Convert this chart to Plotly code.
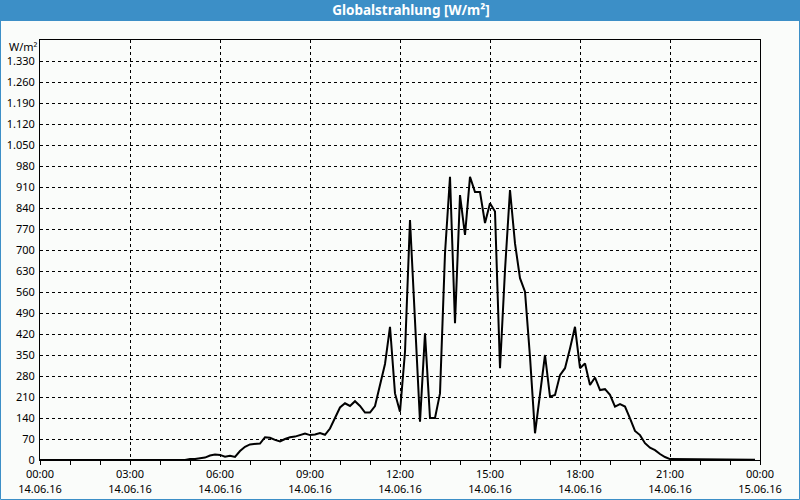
import plotly.graph_objects as go

# 10-minute samples, 14.06.16 00:00 .. 23:50  (W/m²)
values = [0]*30 + [
    3, 3, 6, 8, 15, 18, 17, 11, 14, 10,
    30, 44, 52, 53, 55, 76, 74, 67, 62, 70,
    76, 78, 82, 88, 83, 85, 90, 84, 105, 140,
    175, 189, 180, 196, 180, 158, 158, 180, 250, 320,
    444, 222, 161, 360, 800, 470, 128, 422, 140, 140,
    222, 689, 944, 456, 883, 750, 944, 893, 893, 790,
    856, 828, 306, 633, 900, 722, 606, 561, 344, 89,
    211, 350, 211, 217, 283, 306, 372, 444, 306, 322,
    250, 275, 233, 236, 217, 178, 186, 178, 139, 97,
    83, 56, 41, 33, 20, 10, 3, 3, 3,
] + [1]*15
hours = [i / 6 for i in range(len(values))]

x_tick_hours = [0, 3, 6, 9, 12, 15, 18, 21, 24]
x_tick_text = ["00:00<br>14.06.16", "03:00<br>14.06.16", "06:00<br>14.06.16",
               "09:00<br>14.06.16", "12:00<br>14.06.16", "15:00<br>14.06.16",
               "18:00<br>14.06.16", "21:00<br>14.06.16", "00:00<br>15.06.16"]
y_ticks = list(range(0, 1331, 70))
y_tick_text = [f"{v:,}".replace(",", ".") for v in y_ticks]

BLUE = "#3c8fc7"
BG = "#fafcfa"
FONT = "Noto Sans"

fig = go.Figure(go.Scatter(x=hours, y=values, mode="lines",
                           line=dict(color="black", width=2), hoverinfo="skip"))

fig.update_layout(
    width=800, height=500,
    margin=dict(l=40, r=40, t=40, b=40, autoexpand=False),
    paper_bgcolor=BG, plot_bgcolor=BG,
    showlegend=False,
    font=dict(family=FONT, size=11, color="black"),
    title=dict(text="<b>Globalstrahlung [W/m²]</b>", x=411/800, xanchor="center",
               y=1 - 10.5/500, yanchor="middle", xref="container", yref="container",
               font=dict(family=FONT, size=13.5, color="white")),
    xaxis=dict(range=[0, 24], tickmode="array", tickvals=x_tick_hours, ticktext=x_tick_text,
               automargin=False,
               showgrid=True, gridcolor="black", griddash="3px,3px", gridwidth=1,
               showline=True, linecolor="black", linewidth=1, mirror=True,
               ticks="outside", ticklen=4, tickcolor="black", zeroline=False,
               minor=dict(tickmode="linear", tick0=0, dtick=1, ticks="outside",
                          ticklen=4, tickcolor="black", showgrid=False)),
    yaxis=dict(range=[0, 1400], tickmode="array", tickvals=y_ticks, ticktext=y_tick_text,
               automargin=False,
               showgrid=True, gridcolor="black", griddash="3px,3px", gridwidth=1,
               showline=True, linecolor="black", linewidth=1, mirror=True,
               ticks="", zeroline=False, ticklabelstandoff=2),
    shapes=[
        dict(type="rect", xref="paper", yref="paper",
             x0=-40/720, x1=760/720, y0=(460-21)/420, y1=460/420,
             fillcolor=BLUE, line=dict(width=0), layer="above"),
        dict(type="rect", xref="paper", yref="paper",
             x0=(0.5-40)/720, x1=(799.5-40)/720, y0=(460-499.5)/420, y1=(460-0.5)/420,
             fillcolor="rgba(0,0,0,0)", line=dict(color=BLUE, width=1), layer="above"),
    ],
    annotations=[
        dict(text="W/m²", xref="paper", yref="y", x=0, y=1380,
             xanchor="right", yanchor="middle", showarrow=False,
             font=dict(family=FONT, size=11, color="black")),
    ],
)

fig.write_html("out.html")
